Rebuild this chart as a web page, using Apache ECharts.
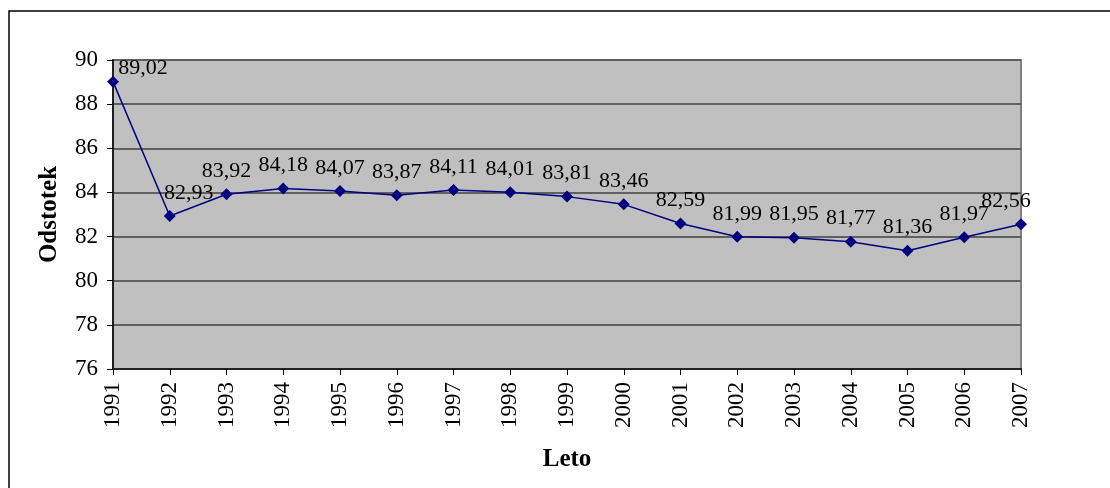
<!DOCTYPE html>
<html><head><meta charset="utf-8">
<script src="https://cdn.jsdelivr.net/npm/echarts@6/dist/echarts.min.js"></script>
<style>html,body{margin:0;padding:0;background:#fff}#c{width:1110px;height:488px}</style>
</head><body><div id="c"></div>
<script>
const years = ['1991','1992','1993','1994','1995','1996','1997','1998','1999','2000','2001','2002','2003','2004','2005','2006','2007'];
const values = [89.02, 82.93, 83.92, 84.18, 84.07, 83.87, 84.11, 84.01, 83.81, 83.46, 82.59, 81.99, 81.95, 81.77, 81.36, 81.97, 82.56];
const yTicks = [76, 78, 80, 82, 84, 86, 88, 90];
const yName = 'Odstotek';
const xName = 'Leto';

const FONT = '"Liberation Serif", "Times New Roman", serif';
const labelOffsets = {0: [30, 10], 1: [19, 0], 16: [-15, 0]};
const data = values.map((v, i) => {
  const d = {value: v};
  if (labelOffsets[i]) d.label = {offset: labelOffsets[i]};
  return d;
});

const chart = echarts.init(document.getElementById('c'));
chart.setOption({
  animation: false,
  backgroundColor: '#fff',
  textStyle: {fontFamily: FONT},
  grid: {left: 113, right: 89, top: 60, bottom: 119, show: true, backgroundColor: '#C0C0C0', borderColor: '#808080', borderWidth: 2},
  graphic: [{type: 'rect', shape: {x: 9, y: 11, width: 1300, height: 700}, style: {fill: 'none', stroke: '#000', lineWidth: 1.5}, z: 100}],
  xAxis: {
    type: 'category', data: years, boundaryGap: false,
    name: xName, nameLocation: 'middle', nameGap: 78,
    nameTextStyle: {fontFamily: FONT, fontSize: 25, fontWeight: 'bold', color: '#000'},
    axisLine: {lineStyle: {color: '#222', width: 2}},
    axisTick: {show: true, length: 6, lineStyle: {color: '#000'}},
    axisLabel: {rotate: 90, fontFamily: FONT, fontSize: 23, color: '#000', margin: 13},
    splitLine: {show: false}
  },
  yAxis: {
    type: 'value', min: yTicks[0], max: yTicks[yTicks.length - 1], interval: 2,
    name: yName, nameLocation: 'middle', nameGap: 51,
    nameTextStyle: {fontFamily: FONT, fontSize: 25, fontWeight: 'bold', color: '#000'},
    axisLine: {show: true, lineStyle: {color: '#000', width: 1.5}},
    axisTick: {show: true, length: 6, lineStyle: {color: '#000'}},
    axisLabel: {fontFamily: FONT, fontSize: 23, color: '#000', margin: 15},
    splitLine: {show: true, lineStyle: {color: '#606060', width: 2}}
  },
  series: [{
    type: 'line', data: data,
    symbol: 'diamond', symbolSize: 12,
    itemStyle: {color: '#000080'},
    lineStyle: {color: '#000080', width: 1.5},
    label: {show: true, position: 'top', distance: 6, fontFamily: FONT, fontSize: 22, color: '#000',
      formatter: p => p.value.toFixed(2).replace('.', ',')}
  }]
});
</script></body></html>
